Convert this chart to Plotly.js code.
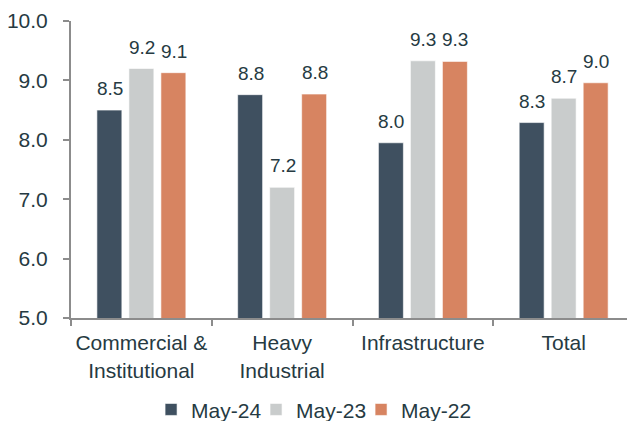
<!DOCTYPE html>
<html>
<head>
<meta charset="utf-8">
<script src="https://cdn.plot.ly/plotly-3.0.1.min.js"></script>
<style>html,body{margin:0;padding:0;background:#fff;overflow:hidden}#chart{width:627px;height:421px}</style>
</head>
<body>
<div id="chart"></div>
<script>
const categories = ["Commercial &<br>Institutional", "Heavy<br>Industrial", "Infrastructure", "Total"];
const seriesNames = ["May-24", "May-23", "May-22"];
const may24 = [8.50, 8.76, 7.95, 8.29];
const may23 = [9.20, 7.20, 9.33, 8.70];
const may22 = [9.13, 8.77, 9.32, 8.96];
const yTicks = [5, 6, 7, 8, 9, 10];

const colors = ["#3f5060", "#c9cccc", "#d78461"];
const textColor = "#263a42";
const font = "Arial, 'Liberation Sans', sans-serif";
const series = [may24, may23, may22];
const legendIds = ["legend", "legend2", "legend3"];
const legendX = [0.1440, 0.3328, 0.5217];

const traces = series.map((vals, i) => ({
  type: "bar",
  name: seriesNames[i],
  legend: legendIds[i],
  x: categories,
  y: vals,
  marker: {color: colors[i], line: {color: "rgba(255,255,255,0.6)", width: 1}},
  hoverinfo: "skip"
}));

const slotPx = 32;
const annotations = [];
series.forEach((vals, i) => {
  vals.forEach((v, j) => {
    annotations.push({
      x: categories[j], y: v, xref: "x", yref: "y",
      text: v.toFixed(1), showarrow: false,
      xshift: (i - 1) * slotPx + 0.5, yshift: 21.5,
      yanchor: "middle", xanchor: "center",
      font: {family: font, size: 19, color: textColor}
    });
  });
});

const layout = {
  width: 627, height: 421,
  margin: {l: 71, r: 0, t: 21, b: 103, autoexpand: false},
  paper_bgcolor: "#fff", plot_bgcolor: "#fff",
  barmode: "group", bargap: 0.318, bargroupgap: 0.22,
  font: {family: font, size: 21, color: textColor},
  showlegend: true,
  xaxis: {
    type: "category", range: [-0.5, 3.45], showline: true, linecolor: "#8c8c8c", linewidth: 2,
    ticks: "outside", tickson: "boundaries", ticklen: 6, tickwidth: 2, tickcolor: "#8c8c8c",
    ticklabelstandoff: 5, tickangle: 0,
    showgrid: false, zeroline: false, fixedrange: true,
    tickfont: {family: font, size: 21, color: textColor}
  },
  yaxis: {
    range: [5, 10], tickvals: yTicks, ticktext: yTicks.map(t => t.toFixed(1)),
    showline: true, linecolor: "#8c8c8c", linewidth: 2,
    ticks: "outside", ticklen: 6, tickwidth: 2, tickcolor: "#8c8c8c",
    ticklabelstandoff: 11,
    showgrid: false, zeroline: false, fixedrange: true,
    tickfont: {family: font, size: 21, color: textColor}
  },
  annotations: annotations
};
legendIds.forEach((id, i) => {
  layout[id] = {orientation: "h", x: legendX[i], xanchor: "left", y: -0.309, yanchor: "middle",
                bgcolor: "rgba(0,0,0,0)",
                font: {family: font, size: 21, color: textColor}, itemwidth: 30};
});

Plotly.newPlot("chart", traces, layout, {displayModeBar: false, staticPlot: true});
</script>
</body>
</html>
